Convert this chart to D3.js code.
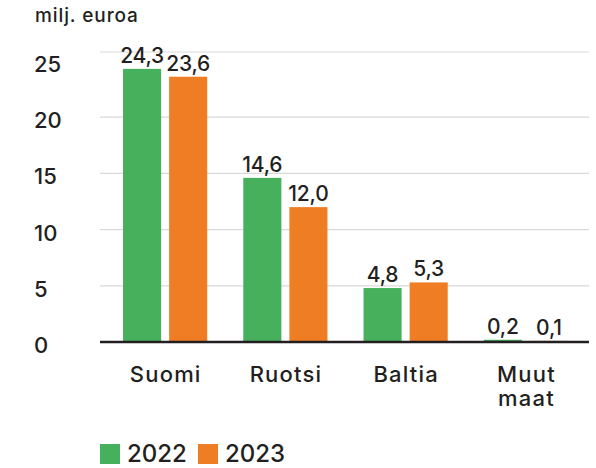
<!DOCTYPE html>
<html>
<head>
<meta charset="utf-8">
<script src="https://cdn.jsdelivr.net/npm/d3@7"></script>
<style>
  html, body { margin: 0; padding: 0; background: #fff; }
  svg { display: block; }
  text { font-family: "Inter", "Open Sans", sans-serif; font-weight: 500; fill: #231f20; }
</style>
</head>
<body>
<svg id="chart" width="596" height="468"></svg>
<script>
// ---- data ----
const categories = [["Suomi"], ["Ruotsi"], ["Baltia"], ["Muut", "maat"]];
const seriesNames = ["2022", "2023"];
const values2022 = [24.3, 14.6, 4.8, 0.2];
const values2023 = [23.6, 12.0, 5.3, 0.1];
const valueLabels2022 = ["24,3", "14,6", "4,8", "0,2"];
const valueLabels2023 = ["23,6", "12,0", "5,3", "0,1"];
const yTicks = [0, 5, 10, 15, 20, 25];
const gridValues = [5, 10, 15, 20];
const yMax = 25.8;
const colors = ["#46b05c", "#ee7d23"];
const unitLabel = "milj. euroa";

const svg = d3.select("#chart");
const plot = { left: 100, right: 589, top: 52, bottom: 342 };

const y = d3.scaleLinear().domain([0, yMax]).range([plot.bottom, plot.top]);
const x0 = d3.scaleBand().domain(d3.range(categories.length)).range([105, 586]).paddingInner(0.3).paddingOuter(0.15);
const x1 = d3.scaleBand().domain(seriesNames).range([0, x0.bandwidth()]).paddingInner(0.174);

const series = [
  { name: seriesNames[0], values: values2022, labels: valueLabels2022, color: colors[0] },
  { name: seriesNames[1], values: values2023, labels: valueLabels2023, color: colors[1] }
];

// unit label
svg.append("text").attr("x", 35).attr("y", 22).attr("font-size", 19)
  .attr("letter-spacing", 0.9).text(unitLabel);

// gridlines (including top line of scale)
svg.append("g").selectAll("line").data(gridValues.concat([yMax])).join("line")
  .attr("x1", plot.left).attr("x2", plot.right)
  .attr("y1", d => y(d)).attr("y2", d => y(d))
  .attr("stroke", "#d9d9d9").attr("stroke-width", 1.2);

// y tick labels
svg.append("g").selectAll("text").data(yTicks).join("text")
  .attr("x", 34).attr("y", d => y(d) + 11)
  .attr("font-size", 22)
  .text(d => d);

// bars
const groups = svg.append("g").selectAll("g").data(series).join("g").attr("fill", d => d.color);
groups.selectAll("rect").data(s => s.values.map((v, i) => ({ v, i, name: s.name })))
  .join("rect")
  .attr("x", d => x0(d.i) + x1(d.name))
  .attr("width", x1.bandwidth())
  .attr("y", d => y(d.v))
  .attr("height", d => y(0) - y(d.v));

// value labels
svg.append("g").selectAll("g").data(series).join("g")
  .selectAll("text").data(s => s.values.map((v, i) => ({ v, i, name: s.name, label: s.labels[i] })))
  .join("text")
  .attr("x", d => x0(d.i) + x1(d.name) + x1.bandwidth() / 2)
  .attr("y", d => y(d.v) - 6)
  .attr("text-anchor", "middle")
  .attr("font-size", 21)
  .attr("letter-spacing", -0.2)
  .text(d => d.label);

// baseline
svg.append("line")
  .attr("x1", plot.left).attr("x2", plot.right)
  .attr("y1", y(0)).attr("y2", y(0))
  .attr("stroke", "#231f20").attr("stroke-width", 2.5);

// category labels
const cat = svg.append("g").selectAll("text").data(categories).join("text")
  .attr("x", (d, i) => x0(i) + x0.bandwidth() / 2 + 0.6)
  .attr("y", 382)
  .attr("text-anchor", "middle")
  .attr("font-size", 22)
  .attr("letter-spacing", 1.2);
cat.selectAll("tspan").data(d => d).join("tspan")
  .attr("x", function() { return d3.select(this.parentNode).attr("x"); })
  .attr("dy", (d, i) => i === 0 ? 0 : 24)
  .text(d => d);

// legend
const legend = svg.append("g");
const legendX = [100, 198];
series.forEach((s, i) => {
  legend.append("rect").attr("x", legendX[i]).attr("y", 444).attr("width", 20).attr("height", 20).attr("fill", s.color);
  legend.append("text").attr("x", legendX[i] + 27).attr("y", 462).attr("font-size", 24).text(s.name);
});
</script>
</body>
</html>
